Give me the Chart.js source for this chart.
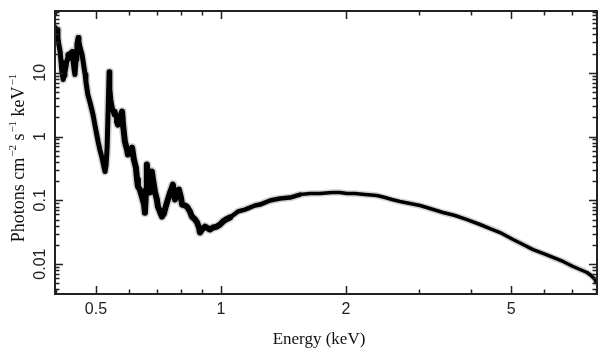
<!DOCTYPE html>
<html>
<head>
<meta charset="utf-8">
<script src="https://cdn.jsdelivr.net/npm/chart.js@4/dist/chart.umd.min.js"></script>
<style>
html,body{margin:0;padding:0;background:#fff;}
canvas{display:block;}
</style>
</head>
<body>
<canvas id="c" width="609" height="357"></canvas>
<script>
// Energy (keV)
const energy = [0.399,0.401,0.403,0.405,0.407,0.410,0.412,0.414,0.417,0.419,0.421,0.424,0.426,0.428,0.433,0.438,0.440,0.443,0.445,0.448,0.450,0.453,0.455,0.458,0.463,0.468,0.471,0.473,0.478,0.484,0.492,0.497,0.506,0.511,0.517,0.523,0.526,0.529,0.532,0.535,0.538,0.540,0.543,0.547,0.553,0.556,0.562,0.565,0.571,0.578,0.581,0.587,0.594,0.597,0.604,0.611,0.617,0.624,0.628,0.631,0.638,0.645,0.653,0.656,0.660,0.663,0.667,0.675,0.682,0.686,0.694,0.701,0.705,0.713,0.721,0.729,0.733,0.741,0.754,0.762,0.766,0.775,0.784,0.792,0.801,0.806,0.819,0.828,0.842,0.851,0.866,0.876,0.885,0.890,0.900,0.915,0.931,0.941,0.957,0.978,0.995,1.011,1.028,1.051,1.075,1.099,1.142,1.174,1.207,1.241,1.276,1.312,1.387,1.466,1.550,1.638,1.731,1.851,1.934,2.011,2.102,2.222,2.375,2.483,2.580,2.698,2.852,3.015,3.187,3.424,3.660,3.912,4.204,4.444,4.697,5.049,5.337,5.641,5.962,6.302,6.661,7.041,7.318,7.608,7.779,7.954,8.00];
// Photons cm^-2 s^-1 keV^-1
const flux = [51.1,42.7,47.5,35.6,27.7,21.5,15.0,10.4,7.82,9.04,10.1,13.0,16.1,19.3,20.0,21.5,16.1,11.2,9.37,16.1,27.7,35.6,30.8,24.8,19.3,12.1,9.37,7.28,4.55,3.41,2.21,1.54,0.835,0.626,0.469,0.327,0.283,0.364,0.672,2.65,10.4,5.45,3.80,2.85,2.21,2.47,1.72,1.54,1.99,2.47,1.54,0.835,0.626,0.522,0.582,0.672,0.436,0.327,0.212,0.165,0.147,0.115,0.086,0.064,0.147,0.364,0.228,0.1325,0.283,0.212,0.1325,0.1029,0.0799,0.0668,0.0557,0.0621,0.0717,0.0923,0.1325,0.1587,0.1768,0.1029,0.1278,0.1477,0.1106,0.0859,0.0829,0.0799,0.0668,0.0557,0.0500,0.0449,0.0375,0.0313,0.0349,0.0388,0.0361,0.0349,0.0375,0.0388,0.0418,0.0465,0.0500,0.0538,0.0599,0.0668,0.0717,0.0771,0.0829,0.0859,0.0923,0.0993,0.1067,0.1106,0.1233,0.1278,0.1278,0.1325,0.1325,0.1278,0.1278,0.1233,0.1189,0.1106,0.1029,0.0958,0.0891,0.0829,0.0744,0.0644,0.0578,0.0500,0.0418,0.0361,0.0313,0.0243,0.0203,0.0169,0.0147,0.0127,0.0110,0.00917,0.00823,0.00739,0.00663,0.00574,0.00515];

const xTickLabels = ['0.5','1','2','5'];
const xMajorTicks = [0.5,1,2,5];
const xMinorTicks = [0.4,0.6,0.7,0.8,0.9,3,4,6,7,8];
const yTickLabels = ['0.01','0.1','1','10'];
const yMajorTicks = [0.01,0.1,1,10];
const yMinorTicks = [0.004,0.005,0.006,0.007,0.008,0.009,0.02,0.03,0.04,0.05,0.06,0.07,0.08,0.09,0.2,0.3,0.4,0.5,0.6,0.7,0.8,0.9,2,3,4,5,6,7,8,9,20,30,40,50,60,70,80,90];
const xTitle = 'Energy (keV)';
const yTitleParts = [['Photons cm',false],['\u22122',true],[' s',false],['\u22121',true],[' keV',false],['\u22121',true]];

const points = energy.map((e,i)=>({x:e,y:flux[i]}));

// band thickness by energy range (style only)
function bandWidth(ctx){
  const e = ctx.p0.parsed.x;
  if (e < 0.56) return 5;
  if (e < 1.05) return 6;
  if (e < 1.5) return 4.5;
  return 3.5;
}

const axesPlugin = {
  id:'axesPlugin',
  afterDraw(chart){
    const ctx = chart.ctx, a = chart.chartArea;
    const xs = chart.scales.x, ys = chart.scales.y;
    const col = '#222';
    ctx.save();
    ctx.strokeStyle = col; ctx.lineWidth = 1.5;
    const major = 8, minor = 4.5;
    ctx.beginPath();
    const xt = (v,len)=>{const p=Math.round(xs.getPixelForValue(v))+0.5;
      ctx.moveTo(p,a.bottom); ctx.lineTo(p,a.bottom-len);
      ctx.moveTo(p,a.top); ctx.lineTo(p,a.top+len);};
    const yt = (v,len)=>{const p=Math.round(ys.getPixelForValue(v))+0.5;
      ctx.moveTo(a.left,p); ctx.lineTo(a.left+len,p);
      ctx.moveTo(a.right,p); ctx.lineTo(a.right-len,p);};
    xMajorTicks.forEach(v=>xt(v,major));
    xMinorTicks.forEach(v=>xt(v,minor));
    yMajorTicks.forEach(v=>yt(v,major));
    yMinorTicks.forEach(v=>yt(v,minor));
    ctx.stroke();
    ctx.lineWidth = 2;
    ctx.strokeRect(a.left, a.top, a.right-a.left, a.bottom-a.top);
    ctx.fillStyle = col;
    ctx.font = '16px "Liberation Sans", Arial, sans-serif';
    ctx.textAlign = 'center'; ctx.textBaseline = 'alphabetic';
    xMajorTicks.forEach((v,i)=>{
      ctx.fillText(xTickLabels[i], xs.getPixelForValue(v), a.bottom+19.5);
    });
    yMajorTicks.forEach((v,i)=>{
      ctx.save();
      ctx.translate(a.left-10, ys.getPixelForValue(v));
      ctx.rotate(-Math.PI/2);
      ctx.textAlign='center'; ctx.textBaseline='alphabetic';
      ctx.fillText(yTickLabels[i],0,0);
      ctx.restore();
    });
    ctx.fillStyle = '#111';
    ctx.font = '17px "Liberation Serif", "Times New Roman", serif';
    ctx.textAlign='center';
    ctx.fillText(xTitle, (a.left+a.right)/2-7, a.bottom+50);
    const mainF = '18px "Liberation Serif", "Times New Roman", serif';
    const supF = '11px "Liberation Serif", "Times New Roman", serif';
    let total = 0;
    yTitleParts.forEach(([t,s])=>{ctx.font = s?supF:mainF; total += ctx.measureText(t).width + (s?1:0);});
    ctx.save();
    ctx.translate(24, 158);
    ctx.rotate(-Math.PI/2);
    ctx.textAlign='left';
    let cx = -total/2;
    yTitleParts.forEach(([t,s])=>{
      ctx.font = s?supF:mainF;
      ctx.fillText(t, cx + (s?1:0), s?-8:0);
      cx += ctx.measureText(t).width + (s?1:0);
    });
    ctx.restore();
    ctx.restore();
  }
};

new Chart(document.getElementById('c'), {
  type:'line',
  data:{datasets:[
    {data:points, borderColor:'#d2d2d2', borderWidth:8, pointRadius:0, tension:0, order:2,
      borderJoinStyle:'round', borderCapStyle:'round',
      segment:{borderWidth:c=>bandWidth(c)+3}},
    {data:points, borderColor:'#000', borderWidth:3.5, pointRadius:0, tension:0, order:1,
      borderJoinStyle:'round', borderCapStyle:'round',
      segment:{borderWidth:c=>bandWidth(c)}}
  ]},
  options:{
    responsive:false, animation:false, events:[],
    layout:{padding:{left:55,right:12,top:11,bottom:63}},
    plugins:{legend:{display:false}, tooltip:{enabled:false}},
    scales:{
      x:{type:'logarithmic', min:0.3985, max:8.04, display:false},
      y:{type:'logarithmic', min:0.0034, max:93, display:false}
    }
  },
  plugins:[axesPlugin]
});
</script>
</body>
</html>
